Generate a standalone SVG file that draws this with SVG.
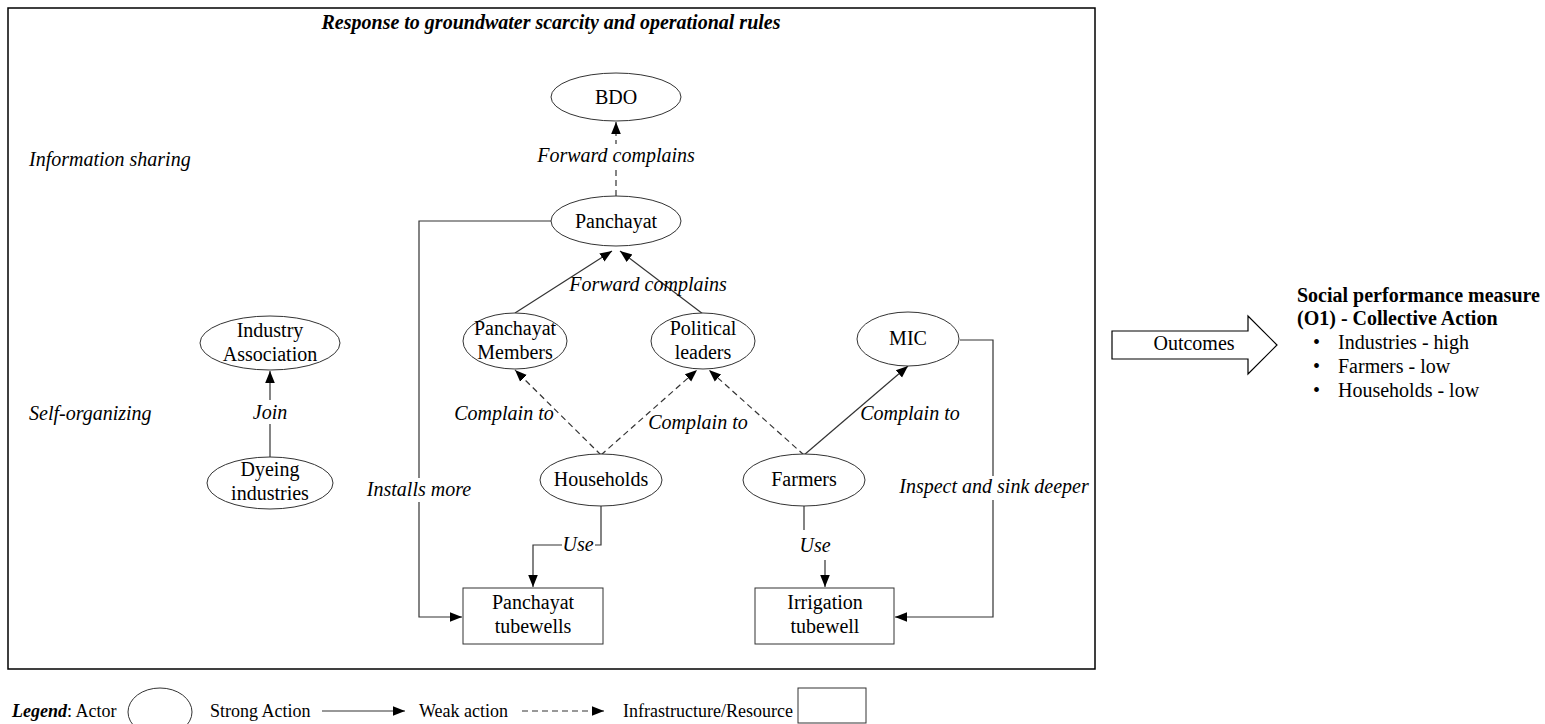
<svg xmlns="http://www.w3.org/2000/svg" width="1545" height="724" viewBox="0 0 1545 724">
<defs>
<marker id="ah" viewBox="0 0 10 10" refX="10" refY="5" markerWidth="12" markerHeight="12" markerUnits="userSpaceOnUse" orient="auto">
<path d="M0 1 L10 5 L0 9 Z" fill="#000"/>
</marker>
<style>
text{font-family:"Liberation Serif","Times New Roman",serif;fill:#000}
.n{font-size:20px;text-anchor:middle}
.lbl{font-size:20px;font-style:italic;text-anchor:middle}
.side{font-size:20px;font-style:italic}
.node{fill:#fff;stroke:#333;stroke-width:1}
.s{fill:none;stroke:#333;stroke-width:1.2}
.d{fill:none;stroke:#333;stroke-width:1.2;stroke-dasharray:6 4}
.bg{fill:#fff}
.out{font-size:20px}
.leg{font-size:18px}
</style>
</defs>
<rect width="1545" height="724" fill="#fff"/>

<!-- frame -->
<rect x="8" y="8" width="1087" height="661" fill="none" stroke="#000" stroke-width="1.5"/>
<text x="551" y="29" font-size="20" font-weight="bold" font-style="italic" text-anchor="middle">Response to groundwater scarcity and operational rules</text>
<text class="side" x="29" y="166">Information sharing</text>
<text class="side" x="29" y="420">Self-organizing</text>

<!-- connectors -->
<g id="connectors">
<line class="d" x1="616" y1="196" x2="616" y2="122" marker-end="url(#ah)"/>
<line class="s" x1="515" y1="313" x2="612" y2="251" marker-end="url(#ah)"/>
<line class="s" x1="703" y1="314" x2="620" y2="251" marker-end="url(#ah)"/>
<line class="d" x1="601" y1="455" x2="515" y2="370" marker-end="url(#ah)"/>
<line class="d" x1="601" y1="455" x2="697" y2="370" marker-end="url(#ah)"/>
<line class="d" x1="804" y1="455" x2="709" y2="370" marker-end="url(#ah)"/>
<line class="s" x1="804" y1="455" x2="908" y2="366" marker-end="url(#ah)"/>
<line class="s" x1="270" y1="457" x2="270" y2="371" marker-end="url(#ah)"/>
<polyline class="s" points="551,221 419,221 419,617 462,617" marker-end="url(#ah)"/>
<polyline class="s" points="601,506 601,545 533,545 533,587" marker-end="url(#ah)"/>
<polyline class="s" points="804,506 804,546 825,546 825,587" marker-end="url(#ah)"/>
<polyline class="s" points="960,340 993,340 993,617 895,617" marker-end="url(#ah)"/>

<!-- edge labels -->
<rect class="bg" x="534" y="144" width="164" height="22"/>
<text class="lbl" x="616" y="162">Forward complains</text>
<text class="lbl" x="648" y="291">Forward complains</text>
<text class="lbl" x="504" y="420">Complain to</text>
<text class="lbl" x="698" y="429">Complain to</text>
<text class="lbl" x="910" y="420">Complain to</text>
<rect class="bg" x="253" y="400" width="34" height="24"/>
<text class="lbl" x="270" y="419">Join</text>
<rect class="bg" x="363" y="478" width="112" height="24"/>
<text class="lbl" x="419" y="496">Installs more</text>
<rect class="bg" x="562" y="535" width="33" height="22"/>
<text class="lbl" x="578" y="551">Use</text>
<rect class="bg" x="797" y="530" width="36" height="30"/>
<text class="lbl" x="815" y="552">Use</text>
<rect class="bg" x="896" y="476" width="196" height="24"/>
<text class="lbl" x="994" y="493">Inspect and sink deeper</text>
</g>

<!-- actors -->
<g id="bdo"><ellipse class="node" cx="616" cy="97" rx="65" ry="24"/><text class="n" x="616" y="104">BDO</text></g>
<g id="panchayat"><ellipse class="node" cx="616" cy="221" rx="65" ry="25"/><text class="n" x="616" y="228">Panchayat</text></g>
<g id="panchayat-members"><ellipse class="node" cx="515" cy="341" rx="52" ry="28"/><text class="n" x="515" y="335">Panchayat</text><text class="n" x="515" y="359">Members</text></g>
<g id="political-leaders"><ellipse class="node" cx="703" cy="341" rx="52" ry="28"/><text class="n" x="703" y="335">Political</text><text class="n" x="703" y="359">leaders</text></g>
<g id="mic"><ellipse class="node" cx="908" cy="339" rx="51" ry="27"/><text class="n" x="908" y="345">MIC</text></g>
<g id="households"><ellipse class="node" cx="601" cy="480" rx="61" ry="26"/><text class="n" x="601" y="486">Households</text></g>
<g id="farmers"><ellipse class="node" cx="804" cy="480" rx="61" ry="26"/><text class="n" x="804" y="486">Farmers</text></g>
<g id="industry-association"><ellipse class="node" cx="270" cy="343" rx="70" ry="27"/><text class="n" x="270" y="337">Industry</text><text class="n" x="270" y="361">Association</text></g>
<g id="dyeing-industries"><ellipse class="node" cx="270" cy="483" rx="63" ry="26"/><text class="n" x="270" y="476">Dyeing</text><text class="n" x="270" y="500">industries</text></g>

<!-- resources -->
<g id="panchayat-tubewells"><rect class="node" x="463" y="588" width="140" height="56"/><text class="n" x="533" y="609">Panchayat</text><text class="n" x="533" y="633">tubewells</text></g>
<g id="irrigation-tubewell"><rect class="node" x="755" y="588" width="139" height="56"/><text class="n" x="825" y="609">Irrigation</text><text class="n" x="825" y="633">tubewell</text></g>

<!-- outcomes -->
<g id="outcomes">
<path d="M1112 331 H1248 V316 L1277 345 L1248 374 V359 H1112 Z" fill="#fff" stroke="#000" stroke-width="1.2"/>
<text class="out" x="1194" y="350" text-anchor="middle">Outcomes</text>
</g>
<g id="measure">
<text class="out" x="1297" y="302" font-weight="bold">Social performance measure</text>
<text class="out" x="1297" y="325" font-weight="bold">(O1) - Collective Action</text>
<text class="out" x="1313" y="349">•</text><text class="out" x="1338" y="349">Industries - high</text>
<text class="out" x="1313" y="373">•</text><text class="out" x="1338" y="373">Farmers - low</text>
<text class="out" x="1313" y="397">•</text><text class="out" x="1338" y="397">Households - low</text>
</g>

<!-- legend -->
<g id="legend">
<text class="leg" x="12" y="717"><tspan font-weight="bold" font-style="italic">Legend</tspan>: Actor</text>
<ellipse class="node" cx="160" cy="712" rx="32" ry="24"/>
<text class="leg" x="210" y="717">Strong Action</text>
<line class="s" x1="322" y1="711" x2="405" y2="711" marker-end="url(#ah)"/>
<text class="leg" x="419" y="717">Weak action</text>
<line class="d" x1="522" y1="711" x2="604" y2="711" stroke-dasharray="6 4" marker-end="url(#ah)"/>
<text class="leg" x="623" y="717">Infrastructure/Resource</text>
<rect class="node" x="798" y="688" width="68" height="35"/>
</g>
</svg>
